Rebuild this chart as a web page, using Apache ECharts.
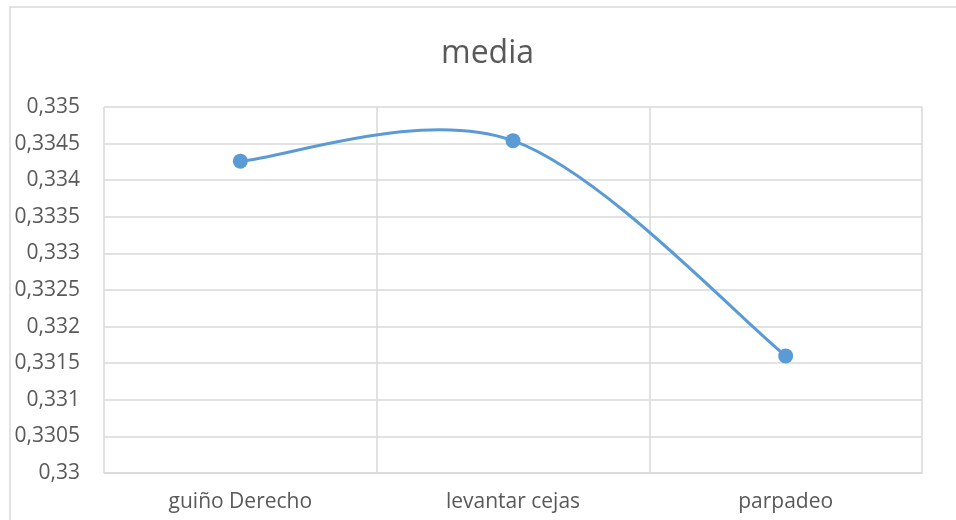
<!DOCTYPE html>
<html><head><meta charset="utf-8">
<script src="https://cdn.jsdelivr.net/npm/echarts@6/dist/echarts.min.js"></script>
<style>html,body{margin:0;padding:0;background:#fff}#c{width:956px;height:520px}</style>
</head><body><div id="c"></div>
<script>
const categories = ['guiño Derecho', 'levantar cejas', 'parpadeo'];
const mediaValues = [0.33426, 0.33454, 0.33160];
const yMin = 0.33, yMax = 0.335, yStep = 0.0005;

const LINE_COLOR = '#5b9bd5';

// Excel-style smoothed curve: cubic Bezier segments whose control points are
// derived from the data points mapped through the chart's own scales.
function renderCurve(params, api) {
  const pts = mediaValues.map((v, i) => api.coord([i, v]));
  const n = pts.length;
  const children = [];
  for (let i = 0; i < n - 1; i++) {
    const p0 = pts[Math.max(i - 1, 0)], p1 = pts[i], p2 = pts[i + 1], p3 = pts[Math.min(i + 2, n - 1)];
    children.push({
      type: 'bezierCurve',
      shape: {
        x1: p1[0], y1: p1[1], x2: p2[0], y2: p2[1],
        cpx1: p1[0] + (p2[0] - p0[0]) / 6, cpy1: p1[1] + (p2[1] - p0[1]) / 6,
        cpx2: p2[0] - (p3[0] - p1[0]) / 6, cpy2: p2[1] - (p3[1] - p1[1]) / 6
      },
      style: { stroke: LINE_COLOR, lineWidth: 3, fill: null, lineCap: 'round' }
    });
  }
  return { type: 'group', children };
}

const chart = echarts.init(document.getElementById('c'));
chart.setOption({
  animation: false,
  title: { text: 'media', left: 436, top: 33,
    textStyle: { fontFamily: 'Open Sans', fontSize: 32, fontWeight: 'normal', color: '#595959' } },
  graphic: [{ type: 'rect', shape: { x: 10, y: 7, width: 960, height: 530 },
    style: { fill: 'none', stroke: '#d9d9d9', lineWidth: 1.5 } }],
  grid: { left: 104, right: 34, top: 107, bottom: 47 },
  xAxis: {
    type: 'category', data: categories, boundaryGap: true,
    axisLine: { lineStyle: { color: '#d9d9d9', width: 1.5 } },
    axisTick: { show: false },
    splitLine: { show: true, lineStyle: { color: '#d9d9d9', width: 1.5 } },
    axisLabel: { color: '#595959', fontFamily: 'Open Sans', fontSize: 21, margin: 19 }
  },
  yAxis: {
    type: 'value', min: yMin, max: yMax, interval: yStep,
    axisLine: { show: false }, axisTick: { show: false },
    splitLine: { lineStyle: { color: '#d9d9d9', width: 1.5 } },
    axisLabel: { color: '#595959', fontFamily: 'Open Sans', fontSize: 21, margin: 24,
      formatter: v => String(+v.toFixed(4)).replace('.', ',') }
  },
  series: [{
    type: 'custom', renderItem: renderCurve, data: [[0, mediaValues[0]]], z: 2, silent: true
  }, {
    type: 'line', data: mediaValues, z: 3,
    symbol: 'circle', symbolSize: 15,
    lineStyle: { width: 0, opacity: 0 },
    itemStyle: { color: LINE_COLOR }
  }]
});
</script></body></html>
